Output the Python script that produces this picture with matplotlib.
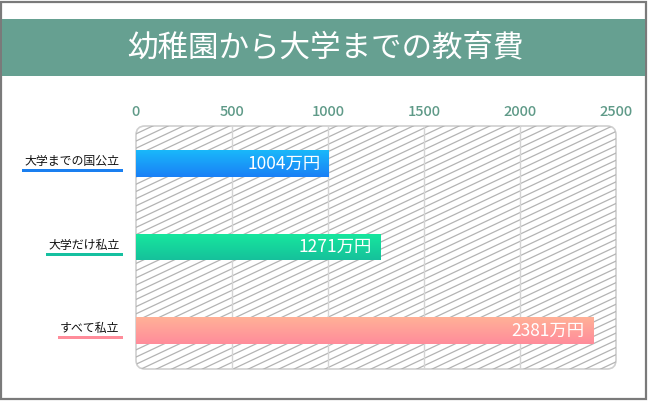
import numpy as np
import matplotlib
matplotlib.use("Agg")
import matplotlib.pyplot as plt
from matplotlib.patches import FancyBboxPatch, Rectangle
from matplotlib.collections import LineCollection
from matplotlib.transforms import IdentityTransform
from matplotlib.colors import to_rgb

plt.rcParams['font.family'] = ['Noto Sans CJK JP', 'DejaVu Sans']

title = "幼稚園から大学までの教育費"
categories = ["大学までの国公立", "大学だけ私立", "すべて私立"]
values = [1004, 1271, 2381]
xticks = [0, 500, 1000, 1500, 2000, 2500]

# gradient colours top -> bottom, underline colour
grad_top = ["#19b8fa", "#17e89e", "#ffb197"]
grad_bot = ["#1a80f6", "#15c19b", "#ff8c9b"]
line_col = ["#1a7ff0", "#15c0a0", "#ff8c9a"]

W, H = 651, 401
fig = plt.figure(figsize=(W / 100, H / 100), dpi=100)
fig.patch.set_facecolor("white")

# outer frame and title band (pixel coords)
fig.patches.append(Rectangle((1, 2), 645, 397, transform=IdentityTransform(),
                             fill=False, edgecolor="#7a7a7a", linewidth=1.6))
fig.patches.append(Rectangle((2, H - 76), 643, 57, transform=IdentityTransform(),
                             facecolor="#66a091", edgecolor="none"))
fig.text(0.5, 1 - 47.5 / H, title, ha="center", va="center",
         color="white", fontsize=22)

# plot area 136..616 x 126..369 px
left, right, top, bottom = 136, 616, 126, 369
ax = fig.add_axes([left / W, 1 - bottom / H, (right - left) / W, (bottom - top) / H])
ax.set_facecolor("none")
for s in ax.spines.values():
    s.set_visible(False)

box = FancyBboxPatch((left, H - bottom), right - left, bottom - top,
                     boxstyle="round,pad=0,rounding_size=9",
                     transform=IdentityTransform(), facecolor="white",
                     edgecolor="#cfcfcf", linewidth=1.2, zorder=0, clip_on=False)
ax.add_patch(box)

# diagonal hatch lines
segs = []
slope = 0.47
for y0 in np.arange(H - bottom - 300, H - top + 10, 7.2):
    segs.append([(left - 5, y0), (right + 5, y0 + slope * (right - left + 10))])
hatch = LineCollection(segs, colors="#b3b3b3", linewidths=0.9,
                       transform=IdentityTransform(), zorder=0.5)
ax.add_collection(hatch, autolim=False)
hatch.set_clip_path(box)

for x in xticks[1:-1]:
    ax.axvline(x, color="#d4d4d4", linewidth=1.0, zorder=1)

ypos = np.arange(len(categories))
bars = ax.barh(ypos, values, height=0.32, color=grad_bot, zorder=2)
for i, b in enumerate(bars):
    c1, c2 = np.array(to_rgb(grad_top[i])), np.array(to_rgb(grad_bot[i]))
    t = np.linspace(0, 1, 64)[:, None, None]
    img = c1 * (1 - t) + c2 * t
    im = ax.imshow(img, extent=(0, values[i], ypos[i] + 0.16, ypos[i] - 0.16),
                   aspect="auto", origin="upper", zorder=2.5, interpolation="bilinear")
    im.set_clip_path(b)
    ax.annotate(f"{values[i]}万円", (values[i], ypos[i]), xytext=(-6, 0),
                textcoords="offset points", ha="right", va="center",
                color="white", fontsize=12.5, zorder=3)
ax.set_xlim(0, 2500)
ax.set_ylim(2.46, -0.45)

ax.xaxis.tick_top()
ax.set_xticks(xticks)
ax.tick_params(axis="x", length=0, pad=5, labelsize=10.5, labelcolor="#5f9a88")
for lb in ax.get_xticklabels():
    lb.set_fontweight("medium")
ax.set_yticks([])

labels = []
for i, cat in enumerate(categories):
    labels.append(ax.annotate(cat, (0, ypos[i]), xytext=(-12, 1.2),
                              textcoords="offset points", ha="right", va="center",
                              fontsize=8.6, color="#111111", annotation_clip=False))

# coloured underline under each category label
fig.canvas.draw()
for i, lab in enumerate(labels):
    bb = lab.get_window_extent()
    fig.patches.append(Rectangle((bb.x0 - 2, bb.y0 - 4), bb.width + 6, 3,
                                 transform=IdentityTransform(),
                                 facecolor=line_col[i], edgecolor="none"))

fig.savefig("out.png", dpi=100)
